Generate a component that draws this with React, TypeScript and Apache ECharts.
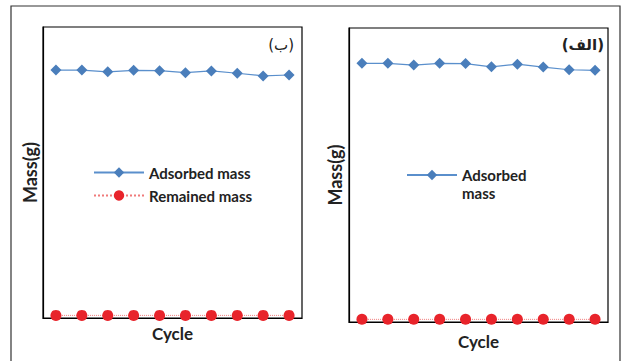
import React, { useEffect, useRef } from "react";
import * as echarts from "echarts";

const cycles = ["1", "2", "3", "4", "5", "6", "7", "8", "9", "10"];
const adsorbedB = [85.2, 85.2, 84.6, 85.1, 85.0, 84.3, 84.9, 84.1, 83.2, 83.5];
const remainedB = [0.9, 0.9, 0.9, 0.9, 0.9, 0.9, 0.9, 0.9, 0.9, 0.9];
const adsorbedA = [88.0, 88.0, 87.4, 88.0, 87.9, 86.8, 87.7, 86.7, 85.8, 85.6];
const remainedA = [0.9, 0.9, 0.9, 0.9, 0.9, 0.9, 0.9, 0.9, 0.9, 0.9];

const FONT = "Lato";
const BLUE = "#4a7ebb";
const BLUE_LINE = "#5a8fcc";
const RED = "#e8242b";
const RED_LINE = "#f07a7a";

export default function App() {
  const ref = useRef<HTMLDivElement>(null);
  useEffect(() => {
    const chart = echarts.init(ref.current!, null, { renderer: "svg" });
    const xAxisBase = {
      type: "category" as const,
      data: cycles,
      boundaryGap: true,
      axisLine: { show: true, lineStyle: { color: "#000", width: 1.2 } },
      axisTick: { show: false },
      axisLabel: { show: false },
      splitLine: { show: false },
      name: "Cycle",
      nameLocation: "middle" as const,
      nameTextStyle: { fontFamily: FONT, fontWeight: "bold", fontSize: 17, color: "#222" },
    };
    const yAxisBase = {
      type: "value" as const,
      min: 0,
      max: 100,
      axisLine: { show: true, lineStyle: { color: "#000", width: 1.2 } },
      axisTick: { show: false },
      axisLabel: { show: false },
      splitLine: { show: false },
      name: "Mass(g)",
      nameLocation: "middle" as const,
      nameRotate: 90,
      nameTextStyle: { fontFamily: FONT, fontWeight: "bold", fontSize: 18, color: "#222" },
    };
    const adsorbedStyle = {
      type: "line" as const,
      symbol: "diamond",
      symbolSize: 11,
      itemStyle: { color: BLUE },
      lineStyle: { color: BLUE_LINE, width: 1.2 },
    };
    const remainedStyle = {
      type: "line" as const,
      symbol: "circle",
      symbolSize: 11,
      itemStyle: { color: RED },
      lineStyle: { color: RED_LINE, width: 1, type: "dotted" as const },
    };
    chart.setOption({
      animation: false,
      backgroundColor: "#fff",
      grid: [
        { left: 43, top: 27, width: 259, height: 291, show: true, borderColor: "#000", borderWidth: 1.2 },
        { left: 349, top: 28, width: 259, height: 294, show: true, borderColor: "#000", borderWidth: 1.2 },
      ],
      xAxis: [
        { ...xAxisBase, gridIndex: 0, nameGap: 7 },
        { ...xAxisBase, gridIndex: 1, nameGap: 11 },
      ],
      yAxis: [
        { ...yAxisBase, gridIndex: 0, nameGap: 4 },
        { ...yAxisBase, gridIndex: 1, nameGap: 5 },
      ],
      legend: [
        {
          left: 93,
          top: 165,
          padding: 0,
          orient: "vertical",
          itemWidth: 50,
          itemHeight: 13,
          itemGap: 8,
          data: ["Adsorbed mass", "Remained mass"],
          textStyle: { fontFamily: FONT, fontWeight: "bold", fontSize: 15, color: "#222" },
        },
        {
          left: 406,
          top: 148,
          padding: 0,
          orient: "vertical",
          itemWidth: 50,
          itemHeight: 13,
          data: ["Adsorbed mass"],
          formatter: () => " \nAdsorbed\nmass",
          textStyle: {
            fontFamily: FONT,
            fontWeight: "bold",
            fontSize: 15,
            lineHeight: 18,
            color: "#222",
          },
        },
      ],
      graphic: [
        {
          type: "rect",
          shape: { x: 11, y: 6, width: 609, height: 400 },
          style: { fill: "none", stroke: "#333", lineWidth: 1.2 },
          silent: true,
        },
        {
          type: "text",
          x: 294,
          y: 45,
          style: {
            text: "(ب)",
            fontFamily: "DejaVu Sans",
            fontSize: 15,
            fill: "#222",
            align: "right",
            verticalAlign: "middle",
          },
        },
        {
          type: "text",
          x: 604,
          y: 45,
          style: {
            text: "(الف)",
            fontFamily: "DejaVu Sans",
            fontWeight: "bold",
            fontSize: 15,
            fill: "#222",
            align: "right",
            verticalAlign: "middle",
          },
        },
      ],
      series: [
        { ...adsorbedStyle, name: "Adsorbed mass", xAxisIndex: 0, yAxisIndex: 0, data: adsorbedB },
        { ...remainedStyle, name: "Remained mass", xAxisIndex: 0, yAxisIndex: 0, data: remainedB },
        { ...adsorbedStyle, name: "Adsorbed mass", xAxisIndex: 1, yAxisIndex: 1, data: adsorbedA },
        { ...remainedStyle, name: "Remained mass", xAxisIndex: 1, yAxisIndex: 1, data: remainedA },
      ],
    });
    return () => chart.dispose();
  }, []);
  return (
    <div
      ref={ref}
      style={{ position: "fixed", left: 0, top: 0, width: 623, height: 361, background: "#fff" }}
    />
  );
}
